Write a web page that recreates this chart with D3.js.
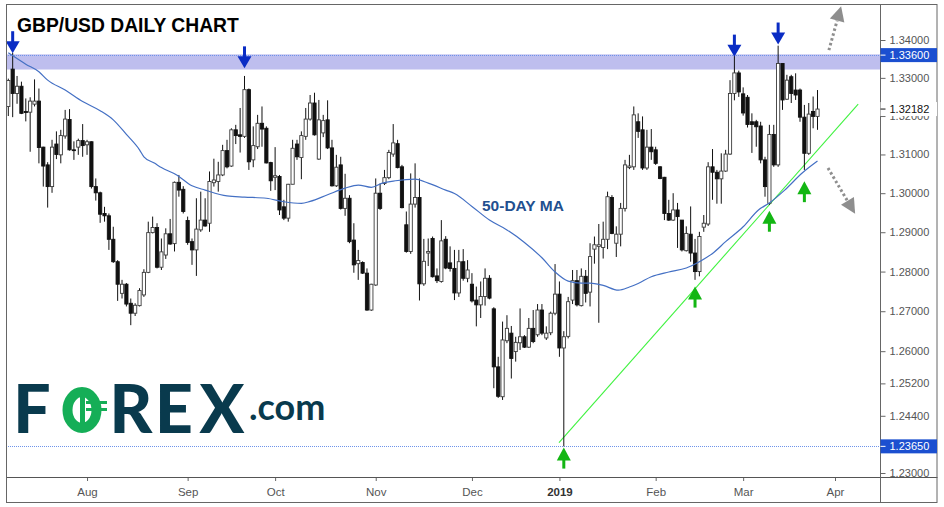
<!DOCTYPE html>
<html><head><meta charset="utf-8">
<script src="https://cdn.jsdelivr.net/npm/d3@7"></script>
<style>
body{margin:0;background:#fff;}
svg{display:block;font-family:"Liberation Sans",Arial,sans-serif;}
</style>
</head><body>
<svg id="chart" width="944" height="507"></svg>
<script>
// ---------- DATA (GBP/USD daily) ----------
const startDate = "2018-07-06", endDate = "2019-04-01";
const holidays = ["2018-12-25", "2019-01-01"];

const open = [
1.3225,1.3323,1.3259,1.3278,1.3212,1.3210,1.3231,1.3239,1.3119,1.3073,
1.3017,1.3127,1.3099,1.3148,1.3191,1.3112,1.3119,1.3136,1.3125,1.3133,
1.3017,1.3001,1.2948,1.2942,1.2882,1.2825,1.2745,1.2768,1.2720,1.2695,
1.2714,1.2741,1.2798,1.2899,1.2912,1.2811,1.2842,1.2896,1.2871,1.3028,
1.3010,1.2930,1.2876,1.2855,1.2906,1.2931,1.2923,1.3027,1.3030,1.3047,
1.3110,1.3070,1.3164,1.3151,1.3147,1.3269,1.3086,1.3120,1.3181,1.3168,
1.3079,1.3041,1.3043,1.2965,1.2936,1.3023,1.3127,1.3092,1.3147,1.3192,
1.3234,1.3088,1.3156,1.3190,1.3117,1.3019,1.3073,1.2961,1.2987,1.2880,
1.2820,1.2823,1.2796,1.2703,1.2766,1.3000,1.3025,1.3040,1.3101,1.3128,
1.3068,1.2919,1.2851,1.2972,1.2989,1.2769,1.2847,1.2884,1.2789,1.2775,
1.2882,1.2822,1.2808,1.2746,1.2825,1.2783,1.2768,1.2728,1.2716,1.2737,
1.2783,1.2706,1.2561,1.2487,1.2626,1.2645,1.2599,1.2621,1.2636,1.2610,
1.2657,1.2641,1.2703,1.2633,1.2646,1.2695,1.2743,1.2608,1.2637,1.2728,
1.2777,1.2714,1.2788,1.2748,1.2857,1.2864,1.2861,1.2882,1.2989,1.2872,
1.2895,1.2961,1.3066,1.3068,1.3185,1.3164,1.3065,1.3119,1.3112,1.3068,
1.3041,1.2948,1.2931,1.2957,1.2931,1.2853,1.2895,1.2847,1.2800,1.2913,
1.2921,1.3068,1.3054,1.3037,1.3057,1.3101,1.3259,1.3313,1.3258,1.3249,
1.3185,1.3185,1.3174,1.3086,1.2974,1.3152,1.3073,1.3338,1.3244,1.3303,
1.3268,1.3268,1.3197,1.3103,1.3212,1.3199];
const high = [
1.3298,1.3366,1.3305,1.3290,1.3246,1.3249,1.3296,1.3272,1.3120,1.3080,
1.3138,1.3160,1.3164,1.3216,1.3218,1.3134,1.3141,1.3179,1.3138,1.3134,
1.3038,1.3004,1.2965,1.2948,1.2914,1.2829,1.2779,1.2771,1.2732,1.2720,
1.2758,1.2806,1.2927,1.2940,1.2923,1.2884,1.2910,1.2934,1.3030,1.3047,
1.3018,1.2940,1.2884,1.2987,1.3004,1.2987,1.3056,1.3089,1.3081,1.3125,
1.3138,1.3168,1.3177,1.3221,1.3305,1.3272,1.3173,1.3203,1.3225,1.3173,
1.3081,1.3119,1.3047,1.2983,1.3024,1.3138,1.3138,1.3160,1.3221,1.3255,
1.3261,1.3242,1.3203,1.3241,1.3138,1.3099,1.3094,1.3050,1.2995,1.2923,
1.2855,1.2826,1.2808,1.2769,1.3038,1.3025,1.3060,1.3112,1.3179,1.3138,
1.3073,1.2953,1.3051,1.3077,1.3038,1.2883,1.2884,1.2889,1.2808,1.2931,
1.2890,1.2864,1.2855,1.2855,1.2857,1.2829,1.2796,1.2762,1.2775,1.2808,
1.2791,1.2710,1.2586,1.2674,1.2690,1.2663,1.2636,1.2707,1.2640,1.2683,
1.2703,1.2718,1.2718,1.2662,1.2699,1.2819,1.2775,1.2650,1.2736,1.2804,
1.2804,1.2808,1.2804,1.2872,1.2889,1.2921,1.2927,1.3004,1.2995,1.2915,
1.2975,1.3086,1.3099,1.3225,1.3207,1.3199,1.3164,1.3166,1.3120,1.3070,
1.3042,1.2983,1.3000,1.2975,1.2931,1.2915,1.2966,1.2883,1.2901,1.2944,
1.3080,1.3114,1.3060,1.3103,1.3112,1.3294,1.3360,1.3319,1.3275,1.3255,
1.3207,1.3190,1.3185,1.3094,1.3177,1.3177,1.3385,1.3338,1.3308,1.3308,
1.3312,1.3272,1.3229,1.3234,1.3251,1.3268];
const low = [
1.3200,1.3197,1.3232,1.3205,1.3186,1.3107,1.3225,1.3077,1.3017,1.2963,
1.3001,1.3088,1.3077,1.3141,1.3110,1.3086,1.3099,1.3094,1.3099,1.3012,
1.2981,1.2924,1.2927,1.2855,1.2822,1.2726,1.2732,1.2712,1.2665,1.2688,
1.2712,1.2736,1.2796,1.2897,1.2808,1.2804,1.2832,1.2868,1.2851,1.2991,
1.2948,1.2868,1.2817,1.2789,1.2901,1.2914,1.2901,1.3017,1.3004,1.3044,
1.3064,1.3068,1.3127,1.3105,1.3143,1.3060,1.3067,1.3114,1.3120,1.3077,
1.3006,1.3008,1.2944,1.2931,1.2927,1.3023,1.3086,1.3036,1.3138,1.3188,
1.3149,1.3086,1.3145,1.3114,1.3017,1.3016,1.2958,1.2942,1.2872,1.2797,
1.2779,1.2794,1.2701,1.2701,1.2764,1.2957,1.3021,1.3036,1.3094,1.3064,
1.2961,1.2848,1.2845,1.2963,1.2727,1.2764,1.2814,1.2785,1.2771,1.2772,
1.2806,1.2800,1.2728,1.2736,1.2777,1.2773,1.2722,1.2662,1.2683,1.2714,
1.2730,1.2508,1.2484,1.2479,1.2620,1.2532,1.2574,1.2603,1.2608,1.2608,
1.2620,1.2636,1.2640,1.2628,1.2640,1.2690,1.2586,1.2365,1.2632,1.2718,
1.2712,1.2712,1.2722,1.2712,1.2820,1.2671,1.2833,1.2857,1.2895,1.2837,
1.2864,1.2953,1.3062,1.3060,1.3143,1.3060,1.3060,1.3086,1.3073,1.3036,
1.2931,1.2929,1.2929,1.2860,1.2851,1.2851,1.2825,1.2779,1.2788,1.2901,
1.2916,1.2983,1.2973,1.2973,1.3055,1.3099,1.3241,1.3250,1.3201,1.3170,
1.3104,1.3120,1.3077,1.2991,1.2970,1.3068,1.3068,1.3216,1.3242,1.3234,
1.3242,1.3185,1.3060,1.3099,1.3168,1.3164];
const close = [
1.3293,1.3259,1.3278,1.3207,1.3209,1.3239,1.3239,1.3118,1.3070,1.3017,
1.3119,1.3100,1.3149,1.3192,1.3112,1.3110,1.3136,1.3123,1.3133,1.3017,
1.3001,1.2946,1.2942,1.2882,1.2825,1.2768,1.2768,1.2718,1.2695,1.2715,
1.2752,1.2798,1.2899,1.2912,1.2811,1.2850,1.2896,1.2870,1.3028,1.3008,
1.2953,1.2874,1.2855,1.2908,1.2931,1.2916,1.3030,1.3034,1.3047,1.3110,
1.3068,1.3164,1.3149,1.3147,1.3269,1.3081,1.3123,1.3181,1.3166,1.3078,
1.3032,1.3045,1.2957,1.2936,1.3023,1.3116,1.3094,1.3149,1.3192,1.3234,
1.3151,1.3190,1.3188,1.3117,1.3019,1.3067,1.2961,1.2987,1.2876,1.2817,
1.2828,1.2796,1.2703,1.2768,1.3000,1.2961,1.3040,1.3105,1.3130,1.3066,
1.2963,1.2851,1.2972,1.2989,1.2769,1.2826,1.2851,1.2787,1.2777,1.2878,
1.2809,1.2808,1.2746,1.2825,1.2783,1.2804,1.2726,1.2716,1.2737,1.2783,
1.2733,1.2561,1.2488,1.2628,1.2657,1.2582,1.2622,1.2636,1.2610,1.2657,
1.2624,1.2703,1.2645,1.2645,1.2695,1.2743,1.2608,1.2636,1.2724,1.2777,
1.2716,1.2788,1.2745,1.2838,1.2868,1.2868,1.2882,1.2991,1.2897,1.2895,
1.2961,1.3073,1.3070,1.3203,1.3160,1.3065,1.3119,1.3107,1.3077,1.3038,
1.2948,1.2931,1.2957,1.2940,1.2855,1.2897,1.2847,1.2800,1.2889,1.2923,
1.3068,1.3054,1.3037,1.3057,1.3101,1.3259,1.3313,1.3263,1.3208,1.3178,
1.3178,1.3172,1.3086,1.3017,1.3152,1.3073,1.3338,1.3242,1.3294,1.3259,
1.3255,1.3197,1.3103,1.3205,1.3199,1.32182];

// 50-day moving average, read at sample bars (bar index, value)
const maIndex = [0,4,7,9,13,17,21,24,27,30,31,33.5,35,38.5,42,45,50,54,59,63,67,69,73,77,80,83,85.5,88.5,93,96,100,102,106,110,114,118,122,125,128,131,133,136,139.5,142,144,147,151,155,158,161,164,168,171.5,174,177.5,181.5,185];
const maValue = [1.3366,1.3336,1.3316,1.3294,1.3268,1.3238,1.3214,1.3190,1.3152,1.3112,1.3094,1.3077,1.3066,1.3047,1.3019,1.3008,1.2993,1.2990,1.2987,1.2978,1.2974,1.2979,1.2996,1.3013,1.3021,1.3015,1.3026,1.3032,1.3036,1.3026,1.3008,1.2999,1.2966,1.2931,1.2906,1.2874,1.2835,1.2799,1.2776,1.2771,1.2771,1.2765,1.2753,1.2761,1.2770,1.2787,1.2799,1.2809,1.2825,1.2846,1.2876,1.2914,1.2957,1.2975,1.3008,1.3052,1.3083];

// Y axis ticks & highlighted levels
const yTicks = [1.34,1.33,1.32,1.31,1.30,1.29,1.28,1.27,1.26,1.252,1.244,1.23];
const resistance = 1.3360, resistanceBand = [1.3322, 1.3362];
const support = 1.2365;

// Annotations (bar index, price)
const downArrowIdx = [1, 54, 166, 176];
const downArrowPrice = [1.3365, 1.3325, 1.3356, 1.3388];
const upArrowIdx = [127, 157, 174, 182];
const upArrowPrice = [1.2362, 1.2762, 1.2955, 1.3031];
const trendStart = [125.9, 1.2374], trendEnd = [194.3, 1.3231];
const grayUp = [[187.6, 1.3373], [190.4, 1.3490]];
const grayDown = [[187.4, 1.3065], [193.6, 1.2947]];

// ---------- BUILD ----------
function weekdays(s, e) {
  const out = [], d = new Date(s + "T00:00:00Z"), end = new Date(e + "T00:00:00Z");
  while (d <= end) {
    const wd = d.getUTCDay(), iso = d.toISOString().slice(0, 10);
    if (wd > 0 && wd < 6 && !holidays.includes(iso)) out.push(iso);
    d.setUTCDate(d.getUTCDate() + 1);
  }
  return out;
}
const dates = weekdays(startDate, endDate);
const bars = close.map((c, i) => ({i, date: dates[i], o: open[i], h: high[i], l: low[i], c}));

const svg = d3.select("#chart");
const W = 944, H = 507;
const plotL = 6, plotR = 880.5, plotT = 4, plotB = 477, frameR = 937.5, frameB = 503;

const x = d3.scaleLinear().domain([0, dates.length - 1]).range([8.3, 835]);
const y = d3.scaleLog().domain([1.23, 1.34]).range([473, 40]);

const defs = svg.append("defs");
defs.append("clipPath").attr("id", "plotClip").append("rect")
  .attr("x", plotL).attr("y", plotT).attr("width", plotR - plotL).attr("height", plotB - plotT);

svg.append("rect").attr("width", W).attr("height", H).attr("fill", "#fff");

const plot = svg.append("g").attr("clip-path", "url(#plotClip)");

// resistance band & lines
plot.append("rect").attr("x", plotL).attr("width", plotR - plotL)
  .attr("y", y(resistanceBand[1])).attr("height", y(resistanceBand[0]) - y(resistanceBand[1]))
  .attr("fill", "#bebeee");
[resistance, support].forEach(v => {
  plot.append("line").attr("x1", plotL).attr("x2", plotR)
    .attr("y1", Math.round(y(v)) + 0.5).attr("y2", Math.round(y(v)) + 0.5)
    .attr("stroke", "#6e93ea").attr("stroke-width", 1).attr("stroke-dasharray", "1,1");
});

// Logo
const logo = svg.append("g").attr("font-family", "Lato, 'Liberation Sans', sans-serif").attr("font-weight", 900);
const logoColor = "#093a4d", logoGreen = "#15ae57";
[["F", 32], ["R", 131], ["E", 174], ["X", 222]].forEach(([t, cx]) => {
  logo.append("text").attr("x", cx).attr("y", 433).attr("text-anchor", "middle")
    .attr("font-size", 66).attr("fill", logoColor).text(t);
});
logo.append("ellipse").attr("cx", 82).attr("cy", 410).attr("rx", 14.5).attr("ry", 18)
  .attr("fill", "none").attr("stroke", logoGreen).attr("stroke-width", 10);
logo.append("rect").attr("x", 80).attr("y", 396).attr("width", 5).attr("height", 28).attr("fill", logoGreen);
logo.append("rect").attr("x", 86).attr("y", 401).attr("width", 21).attr("height", 3).attr("fill", logoGreen);
logo.append("rect").attr("x", 86).attr("y", 408).attr("width", 21).attr("height", 3).attr("fill", logoGreen);
logo.append("text").attr("x", 249).attr("y", 420).attr("font-size", 36).attr("font-weight", 700)
  .attr("fill", logoColor).text(".com");

// Trend line
plot.append("line")
  .attr("x1", x(trendStart[0])).attr("y1", y(trendStart[1]))
  .attr("x2", x(trendEnd[0])).attr("y2", y(trendEnd[1]))
  .attr("stroke", "#3ef23e").attr("stroke-width", 1.1);

// Candles
const cg = plot.append("g");
cg.selectAll("line.wick").data(bars).join("line").attr("class", "wick")
  .attr("x1", d => x(d.i)).attr("x2", d => x(d.i))
  .attr("y1", d => y(d.h)).attr("y2", d => y(d.l))
  .attr("stroke", "#111").attr("stroke-width", 1);
cg.selectAll("rect.body").data(bars).join("rect").attr("class", "body")
  .attr("x", d => x(d.i) - 1.6).attr("width", 3.2)
  .attr("y", d => y(Math.max(d.o, d.c)))
  .attr("height", d => Math.max(0.8, Math.abs(y(d.o) - y(d.c))))
  .attr("fill", d => d.c >= d.o ? "#fff" : "#111")
  .attr("stroke", d => d.c >= d.o ? "#3a3a3a" : "#111").attr("stroke-width", 0.9);

// Moving average
plot.append("path")
  .datum(maIndex.map((k, j) => [k, maValue[j]]))
  .attr("fill", "none").attr("stroke", "#4470c4").attr("stroke-width", 1.2)
  .attr("d", d3.line().x(d => x(d[0])).y(d => y(d[1])).curve(d3.curveMonotoneX));

svg.append("text").attr("x", 482).attr("y", 210.5).attr("font-size", 15.5).attr("font-weight", 700)
  .attr("fill", "#22508f").text("50-DAY MA");

// Arrows
function downArrow(cx, tip, color) {
  const g = svg.append("g").attr("fill", color);
  g.append("rect").attr("x", cx - 1.5).attr("y", tip - 22).attr("width", 3).attr("height", 11);
  g.append("path").attr("d", `M${cx - 7},${tip - 12}L${cx + 7},${tip - 12}L${cx},${tip}Z`);
}
function upArrow(cx, tip, color) {
  const g = svg.append("g").attr("fill", color);
  g.append("rect").attr("x", cx - 1.5).attr("y", tip + 11).attr("width", 3).attr("height", 10);
  g.append("path").attr("d", `M${cx - 7},${tip + 13}L${cx + 7},${tip + 13}L${cx},${tip}Z`);
}
downArrowIdx.forEach((k, j) => downArrow(x(k), y(downArrowPrice[j]), "#0a2cc4"));
upArrowIdx.forEach((k, j) => upArrow(x(k), y(upArrowPrice[j]), "#13b613"));

function grayArrow(p0, p1) {
  const x0 = x(p0[0]), y0 = y(p0[1]), x1 = x(p1[0]), y1 = y(p1[1]);
  const ang = Math.atan2(y1 - y0, x1 - x0), hl = 15, hw = 7.5;
  const bx = x1 - hl * Math.cos(ang), by = y1 - hl * Math.sin(ang);
  svg.append("line").attr("x1", x0).attr("y1", y0).attr("x2", bx).attr("y2", by)
    .attr("stroke", "#8e8e8e").attr("stroke-width", 3).attr("stroke-dasharray", "2.5,2.5");
  const px = -Math.sin(ang) * hw, py = Math.cos(ang) * hw;
  svg.append("path").attr("d", `M${x1},${y1}L${bx + px},${by + py}L${bx - px},${by - py}Z`).attr("fill", "#8e8e8e");
}
grayArrow(grayUp[0], grayUp[1]);
grayArrow(grayDown[0], grayDown[1]);

// Title
svg.append("text").attr("x", 17).attr("y", 31.5).attr("font-size", 19.3).attr("font-weight", 700)
  .attr("fill", "#000").text("GBP/USD DAILY CHART");

// Y axis (right)
const yAxis = d3.axisRight(y).tickValues(yTicks).tickFormat(d3.format(".5f")).tickSize(5).tickSizeOuter(0);
const ya = svg.append("g").attr("transform", `translate(${plotR},0)`).call(yAxis);
ya.select(".domain").remove();
ya.selectAll("line").attr("stroke", "#666");
ya.selectAll("text").attr("x", 9).attr("fill", "#555").attr("font-size", 11).attr("font-family", "'Liberation Sans',Arial,sans-serif");

// X axis (bottom)
const monthIdx = dates.map((d, i) => i).filter(i => i > 0 && dates[i].slice(5, 7) !== dates[i - 1].slice(5, 7));
const fmtMonth = i => {
  const dt = new Date(dates[i] + "T00:00:00Z");
  return dt.getUTCMonth() === 0 ? String(dt.getUTCFullYear()) : d3.utcFormat("%b")(dt);
};
const xAxis = d3.axisBottom(x).tickValues(monthIdx).tickFormat(fmtMonth).tickSize(4).tickSizeOuter(0);
const xa = svg.append("g").attr("transform", `translate(0,${plotB})`).call(xAxis);
xa.select(".domain").remove();
xa.selectAll("line").attr("stroke", "#666");
xa.selectAll("text").attr("y", 11).attr("fill", "#555").attr("font-size", 11.5)
  .attr("font-family", "'Liberation Sans',Arial,sans-serif")
  .attr("font-weight", i => dates[i].slice(5, 7) === "01" ? 700 : 400)
  .attr("fill", i => dates[i].slice(5, 7) === "01" ? "#333" : "#555");

// Frame lines
svg.append("line").attr("x1", plotL).attr("x2", frameR).attr("y1", plotB + 0.5).attr("y2", plotB + 0.5).attr("stroke", "#555");
svg.append("line").attr("x1", plotR).attr("x2", plotR).attr("y1", plotT).attr("y2", frameB).attr("stroke", "#666");
svg.append("rect").attr("x", plotL + 0.5).attr("y", plotT + 0.5).attr("width", frameR - plotL - 1).attr("height", frameB - plotT - 1)
  .attr("fill", "none").attr("stroke", "#666");

// Price labels on axis
function priceLabel(v, bg, fg, bold) {
  const cy = y(v);
  svg.append("rect").attr("x", plotR).attr("y", cy - 7).attr("width", frameR - plotR - 0.5).attr("height", 14).attr("fill", bg);
  svg.append("line").attr("x1", plotR).attr("x2", plotR + 5).attr("y1", cy).attr("y2", cy).attr("stroke", fg);
  svg.append("text").attr("x", plotR + 9).attr("y", cy + 4).attr("font-size", 11)
    .attr("font-weight", bold ? 700 : 400).attr("fill", fg).text(d3.format(".5f")(v));
}
priceLabel(resistance, "#1b4fd0", "#fff", false);
priceLabel(support, "#1b4fd0", "#fff", false);
priceLabel(close[close.length - 1], "#fff", "#111", false);
</script>
</body></html>
